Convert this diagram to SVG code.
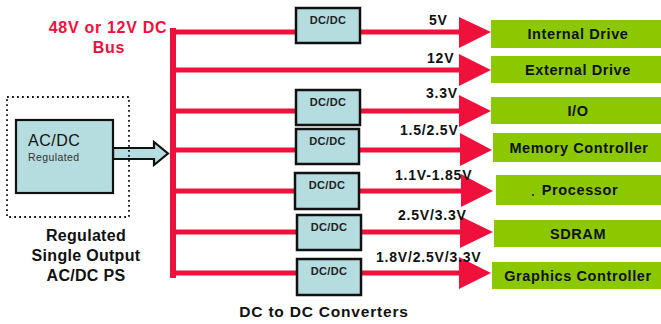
<svg xmlns="http://www.w3.org/2000/svg" width="661" height="324" viewBox="0 0 661 324">
<defs>
<style>
.bus{stroke:#f0103c;stroke-width:5;fill:none}
.head{fill:#f0103c}
.dc rect{fill:#b5dcdf;stroke:#111;stroke-width:2.5}
.dc text{font:bold 11px "Liberation Sans",Arial,sans-serif;fill:#222;text-anchor:middle;letter-spacing:0.3px}
.ld rect{fill:#8cc800}
.ld text{font:bold 14.5px "Liberation Sans",Arial,sans-serif;fill:#111;text-anchor:middle;letter-spacing:0.6px}
.v{font:bold 14px "Liberation Sans",Arial,sans-serif;fill:#111;letter-spacing:0.8px}
.lbl{font:bold 16px "Liberation Sans",Arial,sans-serif;fill:#111;text-anchor:middle;letter-spacing:0.3px}
.red{font:bold 16px "Liberation Sans",Arial,sans-serif;fill:#f0103c;text-anchor:middle;letter-spacing:0.7px}
</style>
</defs>
<rect width="661" height="324" fill="#fff"/>

<g id="connectors">
<line class="bus" x1="173" y1="28" x2="173" y2="278" style="stroke-width:6"/>
<line class="bus" x1="173" y1="32" x2="462" y2="32"/>
<line class="bus" x1="173" y1="70" x2="462" y2="70"/>
<line class="bus" x1="173" y1="111" x2="462" y2="111"/>
<line class="bus" x1="173" y1="150" x2="462" y2="150"/>
<line class="bus" x1="173" y1="191" x2="462" y2="191"/>
<line class="bus" x1="173" y1="232" x2="462" y2="232"/>
<line class="bus" x1="173" y1="273" x2="462" y2="273"/>
<polygon class="head" points="459,17 491,32 459,48"/>
<polygon class="head" points="459,54 491,70 459,86"/>
<polygon class="head" points="459,95 491,111 459,127"/>
<polygon class="head" points="460,133 492,150 460,166"/>
<polygon class="head" points="461,174 493,191 461,207"/>
<polygon class="head" points="460,216 493,232 460,248"/>
<polygon class="head" points="459,257 491,273 459,289"/>
<path d="M113,148 H154 V142 L168,153.5 L154,165 V159 H113 Z" fill="#b5dcdf" stroke="#111" stroke-width="2.2" stroke-linejoin="miter"/>
</g>

<g id="acdc-ps">
<rect x="7" y="97" width="122" height="120" fill="none" stroke="#111" stroke-width="1.8" stroke-dasharray="1.8,3.2"/>
<rect x="16" y="120" width="97" height="73" fill="#b5dcdf" stroke="#111" stroke-width="2.2"/>
<text x="28" y="146" style="font:16px 'Liberation Sans',Arial,sans-serif;fill:#111;letter-spacing:0.5px">AC/DC</text>
<text x="28" y="161" style="font:10.5px 'Liberation Sans',Arial,sans-serif;fill:#333;letter-spacing:0.4px">Regulated</text>
<text class="lbl" x="86" y="241">Regulated</text>
<text class="lbl" x="86" y="261">Single Output</text>
<text class="lbl" x="86" y="281">AC/DC PS</text>
</g>

<g id="bus-label">
<text class="red" x="108" y="33">48V or 12V DC</text>
<text class="red" x="109" y="53">Bus</text>
</g>

<g id="dc1" class="dc"><rect x="296" y="8" width="64" height="35"/><text x="328" y="24">DC/DC</text></g>
<g id="dc2" class="dc"><rect x="296" y="90" width="64" height="35"/><text x="328" y="106">DC/DC</text></g>
<g id="dc3" class="dc"><rect x="296" y="129" width="63" height="35"/><text x="327.5" y="145">DC/DC</text></g>
<g id="dc4" class="dc"><rect x="295" y="173" width="64" height="36"/><text x="327" y="189">DC/DC</text></g>
<g id="dc5" class="dc"><rect x="297" y="215" width="64" height="35"/><text x="329" y="231">DC/DC</text></g>
<g id="dc6" class="dc"><rect x="297" y="259" width="64" height="36"/><text x="329" y="275">DC/DC</text></g>

<g id="volts">
<text class="v" x="429" y="25">5V</text>
<text class="v" x="427" y="63">12V</text>
<text class="v" x="426" y="98">3.3V</text>
<text class="v" x="400" y="135">1.5/2.5V</text>
<text class="v" x="395" y="180">1.1V-1.85V</text>
<text class="v" x="398" y="220">2.5V/3.3V</text>
<text class="v" x="376" y="262">1.8V/2.5V/3.3V</text>
</g>

<g id="internal-drive" class="ld"><rect x="491" y="20" width="170" height="28"/><text x="578" y="39">Internal Drive</text></g>
<g id="external-drive" class="ld"><rect x="491" y="56" width="170" height="27"/><text x="578" y="75">External Drive</text></g>
<g id="io" class="ld"><rect x="491" y="97" width="170" height="27"/><text x="578" y="116">I/O</text></g>
<g id="memory-controller" class="ld"><rect x="493" y="133" width="168" height="29"/><text x="579" y="153">Memory Controller</text></g>
<g id="processor" class="ld"><rect x="496" y="175" width="165" height="30"/><circle cx="533" cy="195" r="1" fill="#222"/><text x="580" y="195">Processor</text></g>
<g id="sdram" class="ld"><rect x="494" y="220" width="167" height="27"/><text x="578" y="239">SDRAM</text></g>
<g id="graphics-controller" class="ld"><rect x="492" y="262" width="169" height="27"/><text x="578" y="281">Graphics Controller</text></g>

<text id="converters-label" class="lbl" x="324" y="317" style="font-size:15.5px;letter-spacing:0.8px">DC to DC Converters</text>
</svg>
